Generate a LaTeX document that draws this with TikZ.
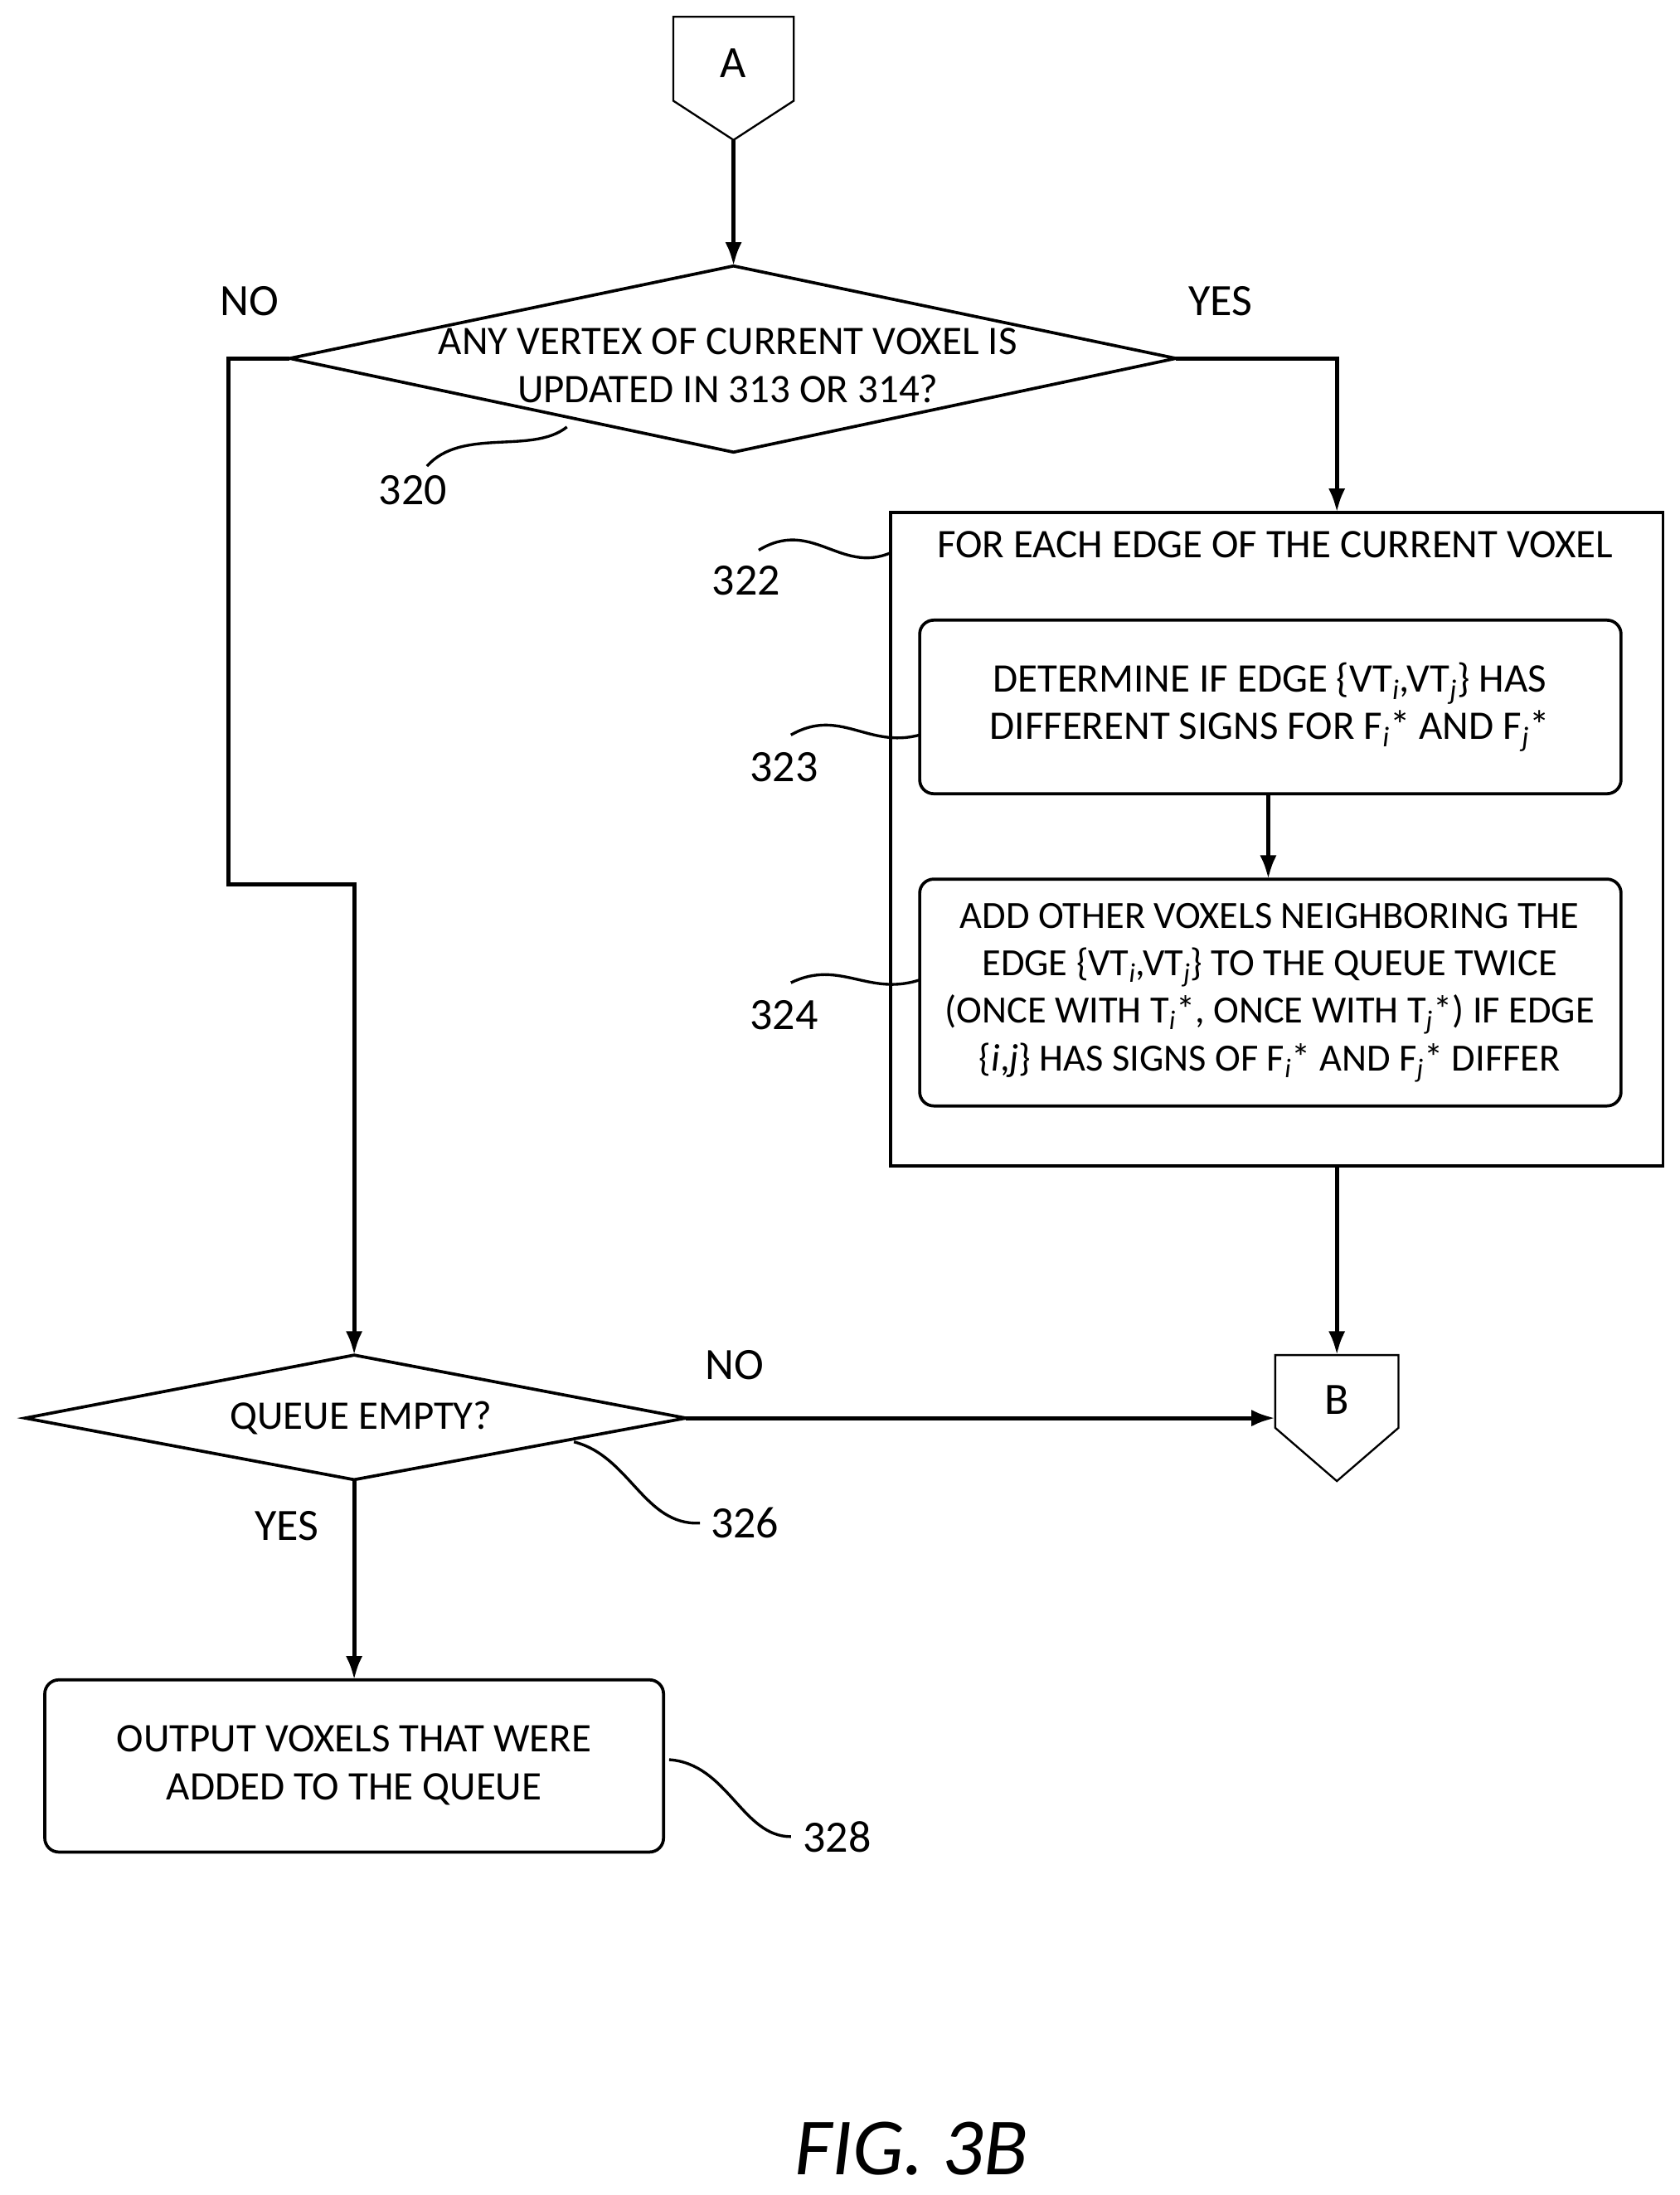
\documentclass[tikz,border=0pt]{standalone}
\usepackage{fontspec}
\setmainfont{Carlito}
\usetikzlibrary{arrows.meta}
\begin{document}
\begin{tikzpicture}[x=1pt,y=-1pt,
  ln/.style={line width=3pt},
  arr/.style={ln,-{Latex[length=17pt,width=12pt]}},
  bx/.style={line width=2.2pt},
  lbl/.style={line width=2pt},
  txt/.style={font=\fontsize{29}{34}\selectfont,align=center,inner sep=0},
  num/.style={font=\fontsize{32}{36}\selectfont,inner sep=0}]
\useasboundingbox (0,0) rectangle (1200,1568);
\newcommand{\sbi}{\textsubscript{\textit{i}}}
\newcommand{\sbj}{\textsubscript{\textit{j}}}
% connector A
\draw[line width=1.4pt] (481,12) -- (567,12) -- (567,72) -- (524,100) -- (481,72) -- cycle;
\node[num] (A) at (524,45) {A};
\coordinate (Atip) at (524,100);
% diamond 1
\draw[bx] (207,256) -- (524,190) -- (840,256) -- (524,323) -- cycle;
\coordinate (d1t) at (524,190); \coordinate (d1l) at (207,256); \coordinate (d1r) at (840,256);
\node[txt] (d1) at (520,261) {ANY VERTEX OF CURRENT VOXEL IS\\UPDATED IN 313 OR 314?};
\draw[arr] (Atip) -- (d1t);
\node[num] (no1) at (178,215) {NO};
\node[num] (yes1) at (872,215) {YES};
% big box
\draw[bx] (636,366) rectangle (1188,833);
\coordinate (bigt) at (955,366); \coordinate (bigb) at (955,833);
\node[txt] (t322) at (911,389) {FOR EACH EDGE OF THE CURRENT VOXEL};
\draw[bx,rounded corners=10pt] (657,443) rectangle (1158,567);
\coordinate (b323b) at (906,567);
\node[txt] (b323) at (907,505) {DETERMINE IF EDGE \{VT\sbi,VT\sbj\} HAS\\DIFFERENT SIGNS FOR F\sbi* AND F\sbj*};
\draw[bx,rounded corners=10pt] (657,628) rectangle (1158,790);
\coordinate (b324t) at (906,628);
\node[txt,font=\fontsize{27.5}{34}\selectfont] (b324) at (907,709) {ADD OTHER VOXELS NEIGHBORING THE\\EDGE \{VT\sbi,VT\sbj\} TO THE QUEUE TWICE\\(ONCE WITH T\sbi*, ONCE WITH T\sbj*) IF EDGE\\\{\textit{i},\textit{j}\} HAS SIGNS OF F\sbi* AND F\sbj* DIFFER};
\draw[arr] (b323b) -- (b324t);
\draw[arr] (d1r) -- (955,256) -- (bigt);
% connector B
\draw[line width=1.4pt] (911,968) -- (999,968) -- (999,1020) -- (955,1058) -- (911,1020) -- cycle;
\node[num] (B) at (955,1000) {B};
\coordinate (Bt) at (955,968); \coordinate (Bl) at (911,1013);
\draw[arr] (bigb) -- (Bt);
% diamond 2
\draw[bx] (18,1013) -- (253,968) -- (490,1013) -- (253,1057) -- cycle;
\coordinate (d2t) at (253,968); \coordinate (d2r) at (490,1013); \coordinate (d2b) at (253,1057);
\node[txt] (d2) at (258,1013) {QUEUE EMPTY?};
\draw[arr] (d1l) -- (163,256) -- (163,632) -- (253,632) -- (d2t);
\draw[arr] (d2r) -- (Bl);
\node[num] (no2) at (525,975) {NO};
\node[num] (yes2) at (205,1090) {YES};
% output box
\draw[bx,rounded corners=10pt] (32,1200) rectangle (474,1323);
\coordinate (b328t) at (253,1200);
\node[txt] (b328) at (253,1261) {OUTPUT VOXELS THAT WERE\\ADDED TO THE QUEUE};
\draw[arr] (d2b) -- (b328t);
% reference numerals
\node[num] (n320) at (295,350) {320};
\draw[lbl] (405,305) .. controls (380,325) and (330,305) .. (305,333);
\node[num] (n322) at (533,415) {322};
\draw[lbl] (542,393) .. controls (580,370) and (600,410) .. (636,395);
\node[num] (n323) at (560,548) {323};
\draw[lbl] (565,525) .. controls (600,505) and (620,535) .. (657,525);
\node[num] (n324) at (560,725) {324};
\draw[lbl] (565,702) .. controls (600,685) and (620,712) .. (657,700);
\node[num] (n326) at (532,1088) {326};
\draw[lbl] (410,1030) .. controls (450,1040) and (460,1090) .. (500,1088);
\node[num] (n328) at (598,1312) {328};
\draw[lbl] (478,1257) .. controls (520,1260) and (530,1312) .. (565,1312);
\node[font=\fontsize{58}{64}\selectfont\itshape,inner sep=0] (fig) at (651,1535) {FIG. 3B};
\end{tikzpicture}
\end{document}
